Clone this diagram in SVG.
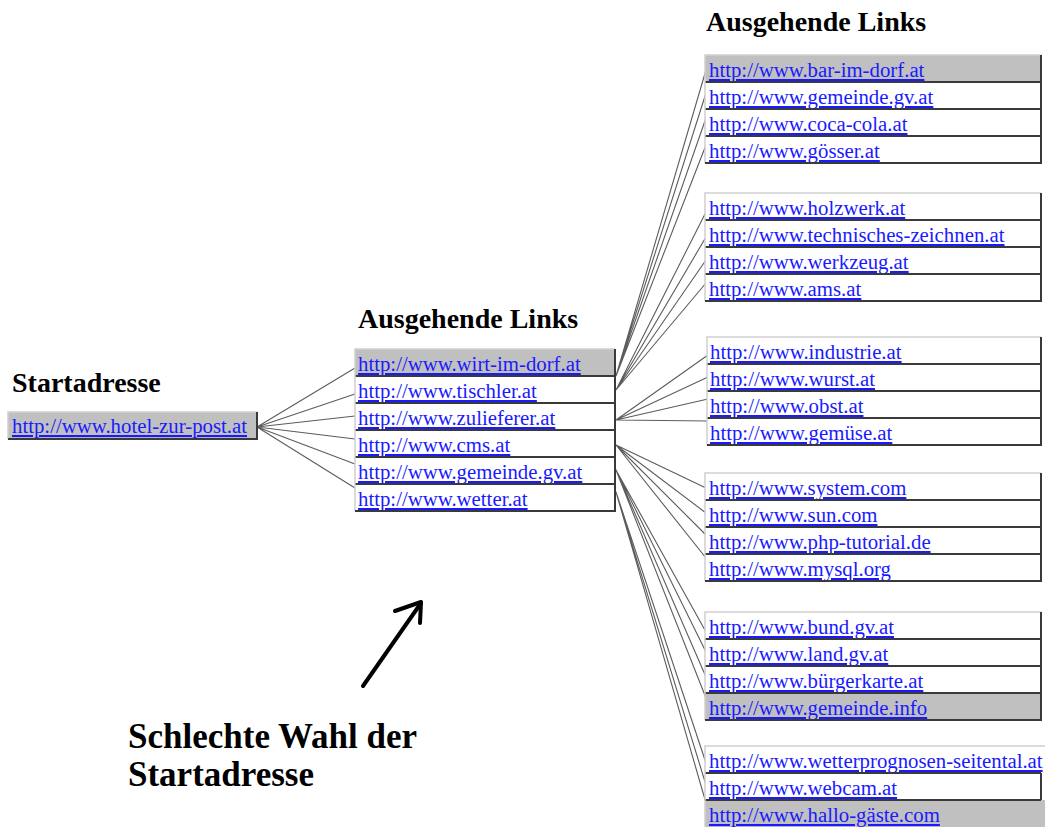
<svg xmlns="http://www.w3.org/2000/svg" width="1045" height="827" viewBox="0 0 1045 827">
  <style>
    .head { font-family: "Liberation Serif", "Times New Roman", serif; font-weight: bold; font-size: 28px; fill: #000; }
    .big { font-family: "Liberation Serif", "Times New Roman", serif; font-weight: bold; font-size: 35px; fill: #000; }
    .link { font-family: "Liberation Serif", "Times New Roman", serif; font-size: 20.8px; fill: #1a1aff; text-decoration: underline; }
    .cell { fill: #ffffff; }
    .sel { fill: #c0c0c0; }
    .sep { stroke: #3a3a3a; stroke-width: 2; fill: none; }
    .hi { stroke: #cfcfcf; stroke-width: 1.5; fill: none; }
    .lo { stroke: #3a3a3a; stroke-width: 2; fill: none; }
    .wire { stroke: #5c5c5c; stroke-width: 1.1; fill: none; }
    .pen { stroke: #000; stroke-width: 4; stroke-linecap: round; stroke-linejoin: round; fill: none; }
  </style>

  <rect width="1045" height="827" fill="#ffffff"/>

  <!-- headings -->
  <text class="head" x="12" y="392">Startadresse</text>
  <text class="head" x="358" y="328">Ausgehende Links</text>
  <text class="head" x="706" y="31">Ausgehende Links</text>

  <!-- connectors -->
  <g id="connectors">
    <!-- start page to first level -->
    <path class="wire" d="M257 427 L355 368 M257 427 L355 394 M257 427 L355 416 M257 427 L355 439 M257 427 L355 464 M257 427 L355 488"/>
    <!-- first level to second level -->
    <path class="wire" d="M616 376 L706 70 M616 376 L706 93 M616 376 L706 118 M616 376 L706 145"/>
    <path class="wire" d="M616 390 L706 212 M616 390 L706 237 M616 390 L706 260 M616 390 L706 283"/>
    <path class="wire" d="M616 420 L708 355 M616 420 L708 377 M616 420 L708 399 M616 420 L708 421"/>
    <path class="wire" d="M616 445 L706 488 M616 445 L706 513 M616 445 L706 535 M616 445 L706 558"/>
    <path class="wire" d="M616 470 L706 632 M616 470 L706 652 M616 470 L706 677 M616 470 L706 698"/>
    <path class="wire" d="M616 492 L706 763 M616 492 L706 785 M616 492 L706 803"/>
  </g>

  <!-- start address -->
  <g id="start">
    <rect class="sel" x="8" y="412" width="249" height="27"/>
    <path class="hi" d="M8 439 V412 H257"/>
    <path class="lo" d="M8 439 H257 V412"/>
    <text class="link" x="12" y="433">http://www.hotel-zur-post.at</text>
  </g>

  <!-- first level links -->
  <g id="level1">
    <g id="l1-wirt"><rect class="sel" x="355" y="349" width="260" height="27"/><text class="link" x="358" y="371">http://www.wirt-im-dorf.at</text></g>
    <g id="l1-tischler"><rect class="cell" x="355" y="376" width="260" height="27"/><text class="link" x="358" y="398">http://www.tischler.at</text></g>
    <g id="l1-zulieferer"><rect class="cell" x="355" y="403" width="260" height="27"/><text class="link" x="358" y="425">http://www.zulieferer.at</text></g>
    <g id="l1-cms"><rect class="cell" x="355" y="430" width="260" height="27"/><text class="link" x="358" y="452">http://www.cms.at</text></g>
    <g id="l1-gemeinde"><rect class="cell" x="355" y="457" width="260" height="27"/><text class="link" x="358" y="479">http://www.gemeinde.gv.at</text></g>
    <g id="l1-wetter"><rect class="cell" x="355" y="484" width="260" height="27"/><text class="link" x="358" y="506">http://www.wetter.at</text></g>
    <path class="sep" d="M355 376 H615 M355 403 H615 M355 430 H615 M355 457 H615 M355 484 H615"/>
    <path class="hi" d="M355 511 V349 H615"/>
    <path class="lo" d="M355 511 H615 V349"/>
  </g>

  <!-- second level: block 1 -->
  <g id="block1">
    <g id="l2-bar"><rect class="sel" x="705" y="55" width="336" height="27"/><text class="link" x="709" y="77">http://www.bar-im-dorf.at</text></g>
    <g id="l2-gemeinde"><rect class="cell" x="705" y="82" width="336" height="27"/><text class="link" x="709" y="104">http://www.gemeinde.gv.at</text></g>
    <g id="l2-cocacola"><rect class="cell" x="705" y="109" width="336" height="27"/><text class="link" x="709" y="131">http://www.coca-cola.at</text></g>
    <g id="l2-goesser"><rect class="cell" x="705" y="136" width="336" height="27"/><text class="link" x="709" y="158">http://www.gösser.at</text></g>
    <path class="sep" d="M705 82 H1041 M705 109 H1041 M705 136 H1041"/>
    <path class="hi" d="M705 163 V55 H1041"/>
    <path class="lo" d="M705 163 H1041 V55"/>
  </g>

  <!-- second level: block 2 -->
  <g id="block2">
    <g id="l2-holzwerk"><rect class="cell" x="705" y="193" width="336" height="27"/><text class="link" x="709" y="215">http://www.holzwerk.at</text></g>
    <g id="l2-technisch"><rect class="cell" x="705" y="220" width="336" height="27"/><text class="link" x="709" y="242">http://www.technisches-zeichnen.at</text></g>
    <g id="l2-werkzeug"><rect class="cell" x="705" y="247" width="336" height="27"/><text class="link" x="709" y="269">http://www.werkzeug.at</text></g>
    <g id="l2-ams"><rect class="cell" x="705" y="274" width="336" height="27"/><text class="link" x="709" y="296">http://www.ams.at</text></g>
    <path class="sep" d="M705 220 H1041 M705 247 H1041 M705 274 H1041"/>
    <path class="hi" d="M705 301 V193 H1041"/>
    <path class="lo" d="M705 301 H1041 V193"/>
  </g>

  <!-- second level: block 3 -->
  <g id="block3">
    <g id="l2-industrie"><rect class="cell" x="707" y="337" width="334" height="27"/><text class="link" x="710" y="359">http://www.industrie.at</text></g>
    <g id="l2-wurst"><rect class="cell" x="707" y="364" width="334" height="27"/><text class="link" x="710" y="386">http://www.wurst.at</text></g>
    <g id="l2-obst"><rect class="cell" x="707" y="391" width="334" height="27"/><text class="link" x="710" y="413">http://www.obst.at</text></g>
    <g id="l2-gemuese"><rect class="cell" x="707" y="418" width="334" height="27"/><text class="link" x="710" y="440">http://www.gemüse.at</text></g>
    <path class="sep" d="M707 364 H1041 M707 391 H1041 M707 418 H1041"/>
    <path class="hi" d="M707 445 V337 H1041"/>
    <path class="lo" d="M707 445 H1041 V337"/>
  </g>

  <!-- second level: block 4 -->
  <g id="block4">
    <g id="l2-system"><rect class="cell" x="705" y="473" width="336" height="27"/><text class="link" x="709" y="495">http://www.system.com</text></g>
    <g id="l2-sun"><rect class="cell" x="705" y="500" width="336" height="27"/><text class="link" x="709" y="522">http://www.sun.com</text></g>
    <g id="l2-php"><rect class="cell" x="705" y="527" width="336" height="27"/><text class="link" x="709" y="549">http://www.php-tutorial.de</text></g>
    <g id="l2-mysql"><rect class="cell" x="705" y="554" width="336" height="27"/><text class="link" x="709" y="576">http://www.mysql.org</text></g>
    <path class="sep" d="M705 500 H1041 M705 527 H1041 M705 554 H1041"/>
    <path class="hi" d="M705 581 V473 H1041"/>
    <path class="lo" d="M705 581 H1041 V473"/>
  </g>

  <!-- second level: block 5 -->
  <g id="block5">
    <g id="l2-bund"><rect class="cell" x="705" y="612" width="336" height="27"/><text class="link" x="709" y="634">http://www.bund.gv.at</text></g>
    <g id="l2-land"><rect class="cell" x="705" y="639" width="336" height="27"/><text class="link" x="709" y="661">http://www.land.gv.at</text></g>
    <g id="l2-buergerkarte"><rect class="cell" x="705" y="666" width="336" height="27"/><text class="link" x="709" y="688">http://www.bürgerkarte.at</text></g>
    <g id="l2-gemeindeinfo"><rect class="sel" x="705" y="693" width="336" height="27"/><text class="link" x="709" y="715">http://www.gemeinde.info</text></g>
    <path class="sep" d="M705 639 H1041 M705 666 H1041 M705 693 H1041"/>
    <path class="hi" d="M705 720 V612 H1041"/>
    <path class="lo" d="M705 720 H1041 V612"/>
  </g>

  <!-- second level: block 6 -->
  <g id="block6">
    <g id="l2-wetterprognosen"><rect class="cell" x="705" y="746" width="340" height="27"/><text class="link" x="709" y="768">http://www.wetterprognosen-seitental.at</text></g>
    <g id="l2-webcam"><rect class="cell" x="705" y="773" width="336" height="27"/><text class="link" x="709" y="795">http://www.webcam.at</text></g>
    <g id="l2-hallo"><rect class="sel" x="705" y="800" width="340" height="27"/><text class="link" x="709" y="822">http://www.hallo-gäste.com</text></g>
    <path class="sep" d="M705 773 H1041 M705 800 H1041"/>
    <path class="hi" d="M705 827 V746 H1045"/>
    <path class="lo" d="M1041 773 V800"/>
  </g>

  <!-- hand-drawn pointer and caption -->
  <g id="pointer">
    <path class="pen" d="M363 686 L421 603"/>
    <path class="pen" d="M395 611 L421 602 L420 623"/>
  </g>
  <text class="big" x="128" y="748">Schlechte Wahl der</text>
  <text class="big" x="128" y="786">Startadresse</text>
</svg>
